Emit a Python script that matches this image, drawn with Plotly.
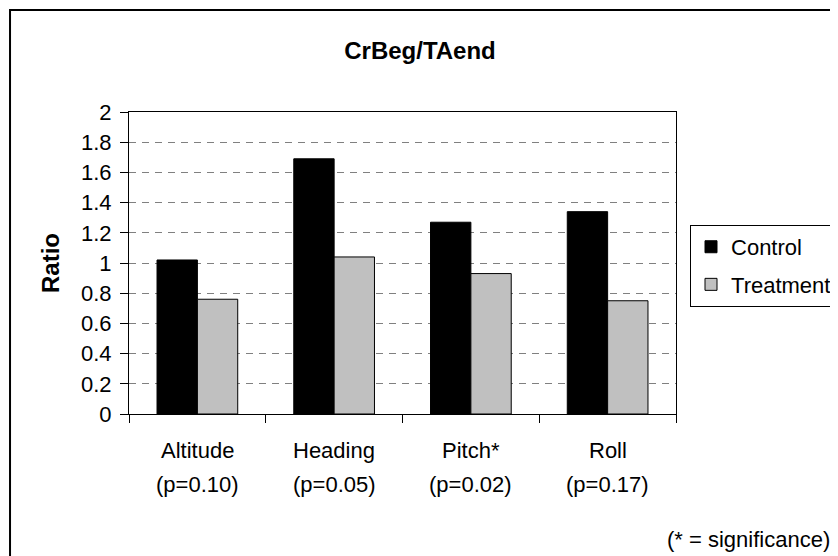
import plotly.graph_objects as go

# data
categories = ["Altitude", "Heading", "Pitch*", "Roll"]
p_values = ["(p=0.10)", "(p=0.05)", "(p=0.02)", "(p=0.17)"]
control = [1.02, 1.69, 1.27, 1.34]
treatment = [0.76, 1.04, 0.93, 0.75]

FONT = "Arial, Liberation Sans, sans-serif"

fig = go.Figure()
fig.add_trace(go.Bar(x=categories, y=control, name="Control", legendgroup="c",
                     marker=dict(color="#000000", line=dict(color="#000000", width=1))))
fig.add_trace(go.Bar(x=categories, y=treatment, name="Treatment", legendgroup="t",
                     marker=dict(color="#C0C0C0", line=dict(color="#000000", width=1))))

# two-line category labels under the axis
annots = []
for cat, p in zip(categories, p_values):
    annots.append(dict(x=cat, xref="x", y=0, yref="paper", yshift=-36, text=cat,
                       showarrow=False, yanchor="middle", font=dict(size=22)))
    annots.append(dict(x=cat, xref="x", y=0, yref="paper", yshift=-70, text=p,
                       showarrow=False, yanchor="middle", font=dict(size=22)))

annots.append(dict(x=-0.1444, xref="paper", y=0.5, yref="paper", text="<b>Ratio</b>",
                   textangle=-90, showarrow=False, xanchor="center", yanchor="middle",
                   font=dict(size=24)))
annots.append(dict(x=1.286, xref="paper", y=-0.414, yref="paper", text="(* = significance)",
                   showarrow=False, xanchor="right", yanchor="middle", font=dict(size=22)))

# page body has an 8px margin, so the figure is 8px smaller than the window
fig.update_layout(
    width=830, height=548,
    paper_bgcolor="white", plot_bgcolor="white",
    font=dict(family=FONT, color="black", size=22),
    margin=dict(l=121, r=162, t=104, b=142, autoexpand=False),
    title=dict(text="<b>CrBeg/TAend</b>", x=0.4964, xanchor="center",
               y=0.923, yanchor="middle", font=dict(size=24)),
    barmode="group", bargap=0.41, bargroupgap=0,
    legend=dict(x=1.0256, y=0.626, xanchor="left", yanchor="top",
                bordercolor="black", borderwidth=1, bgcolor="white",
                tracegroupgap=6, font=dict(size=22), itemwidth=30),
    annotations=annots,
    shapes=[dict(type="rect", xref="paper", yref="paper",
                 x0=-0.2175, x1=1.33, y0=-0.52, y1=1.338,
                 line=dict(color="black", width=2))],
    showlegend=True,
)

fig.update_xaxes(showticklabels=False, tickson="boundaries", ticks="outside",
                 ticklen=8, tickcolor="black", showline=True, linecolor="black",
                 linewidth=1, mirror=True, showgrid=False)
fig.update_yaxes(range=[0, 2], dtick=0.2, ticks="outside", ticklen=8, tickcolor="black",
                 showline=True, linecolor="black", linewidth=1, mirror=True,
                 showgrid=True, gridcolor="#808080", griddash="7px,6px", gridwidth=1,
                 zeroline=False, ticklabelstandoff=4, tickfont=dict(size=22))

fig.write_html("out.html")
